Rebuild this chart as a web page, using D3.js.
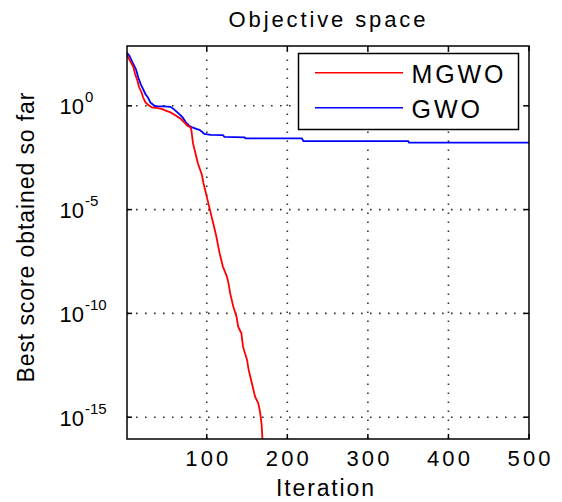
<!DOCTYPE html>
<html><head><meta charset="utf-8">
<script src="https://cdn.jsdelivr.net/npm/d3@7/dist/d3.min.js"></script>
<style>body{margin:0;background:#fff}svg{display:block}text{font-family:"Liberation Sans",Arial,sans-serif;fill:#000}</style>
</head><body>
<svg id="c" width="562" height="502"></svg>
<script>
// ---- data ----
const seriesNames = ["MGWO", "GWO"];
const mgwoIter = [1, 6, 9, 11, 14, 16, 19, 21, 24, 27, 32, 39, 45, 49, 55, 62, 68, 72, 76, 80, 81, 82, 83, 85, 87, 89, 92, 94, 96, 98, 100, 102, 104, 106, 108, 110, 112, 114, 116, 118, 120, 125, 127, 129, 133, 137, 139, 143, 145, 150, 152, 156, 160, 164, 166, 168, 169, 170];
const mgwoBest = [2.8e2, 1.2e2, 7.1e1, 3.4e1, 1.6e1, 7.8, 4.5, 2.5, 1.45, 1.12, 0.83, 0.78, 0.69, 0.58, 0.48, 0.33, 0.23, 0.16, 0.11, 0.091, 0.063, 0.030, 0.015, 7.4e-3, 3.5e-3, 1.7e-3, 7.9e-4, 4.6e-4, 1.8e-4, 8.7e-5, 4.2e-5, 2.0e-5, 9.5e-6, 4.6e-6, 2.2e-6, 1.05e-6, 4.9e-7, 1.9e-7, 7.8e-8, 3.7e-8, 1.8e-8, 5.9e-9, 2.8e-9, 9.5e-10, 2.1e-10, 6.9e-11, 2.3e-11, 1.1e-11, 2.5e-12, 5.8e-13, 1.9e-13, 4.3e-14, 9.8e-15, 4.7e-15, 1.9e-15, 5.1e-16, 1.1e-16, 3.0e-17];
const gwoIter = [1, 4, 8, 12, 15, 18, 21, 24, 27, 30, 35, 39, 47, 55, 59, 66, 70, 74, 78, 82, 88, 91, 94, 97, 105, 120, 122, 147, 148, 218, 220, 350, 351, 500];
const gwoBest = [3.5e2, 2.6e2, 1.2e2, 5.9e1, 2.3e1, 1.1e1, 6.3, 3.6, 2.5, 1.45, 1.0, 0.93, 0.93, 0.89, 0.69, 0.40, 0.28, 0.16, 0.11, 0.091, 0.076, 0.070, 0.056, 0.044, 0.040, 0.039, 0.032, 0.030, 0.027, 0.027, 0.020, 0.020, 0.017, 0.017];
const xTickValues = [100, 200, 300, 400, 500];
const yTickExponents = [0, -5, -10, -15];
const titleText = "Objective space";
const xLabelText = "Iteration";
const yLabelText = "Best score obtained so far";

// ---- layout ----
const svg = d3.select("#c");
const L = 127, R = 529, T = 46, B = 439;
const x = d3.scaleLinear().domain([1, 500]).range([L, R]);
const y = d3.scaleLog().domain([Math.pow(10, -16.05), Math.pow(10, 2.88)]).range([B, T]);

svg.append("defs").append("clipPath").attr("id", "plotclip")
  .append("rect").attr("x", L).attr("y", T).attr("width", R - L).attr("height", B - T);

svg.append("rect").attr("x", L).attr("y", T).attr("width", R - L).attr("height", B - T).attr("fill", "#fff");

// grid
const grid = svg.append("g").attr("stroke", "#333").attr("stroke-width", 1.6).attr("stroke-dasharray", "1.6 7.4");
grid.selectAll("line.gx").data(xTickValues.filter(v => v < 500)).join("line")
  .attr("x1", d => x(d)).attr("x2", d => x(d)).attr("y1", B).attr("y2", T);
grid.selectAll("line.gy").data(yTickExponents).join("line")
  .attr("y1", d => y(Math.pow(10, d))).attr("y2", d => y(Math.pow(10, d))).attr("x1", L).attr("x2", R);

// series
const line = d3.line().x(d => x(d[0])).y(d => y(d[1]));
const series = [
  {name: seriesNames[0], color: "#ff0000", pts: d3.zip(mgwoIter, mgwoBest)},
  {name: seriesNames[1], color: "#0000ff", pts: d3.zip(gwoIter, gwoBest)}
];
const plot = svg.append("g").attr("clip-path", "url(#plotclip)");
plot.selectAll("path").data(series.slice().reverse()).join("path")
  .attr("d", d => line(d.pts)).attr("fill", "none")
  .attr("stroke", d => d.color).attr("stroke-width", 1.8).attr("stroke-linejoin", "miter");

// frame
svg.append("rect").attr("x", L).attr("y", T).attr("width", R - L).attr("height", B - T)
  .attr("fill", "none").attr("stroke", "#000").attr("stroke-width", 1.5);

// ticks
const tk = svg.append("g").attr("stroke", "#000").attr("stroke-width", 1.5);
xTickValues.forEach(v => {
  tk.append("line").attr("x1", x(v)).attr("x2", x(v)).attr("y1", B).attr("y2", B - 5);
  tk.append("line").attr("x1", x(v)).attr("x2", x(v)).attr("y1", T).attr("y2", T + 5);
});
yTickExponents.forEach(e => {
  const yy = y(Math.pow(10, e));
  tk.append("line").attr("x1", L).attr("x2", L + 5).attr("y1", yy).attr("y2", yy);
  tk.append("line").attr("x1", R).attr("x2", R - 5).attr("y1", yy).attr("y2", yy);
});

// x tick labels
svg.append("g").selectAll("text").data(xTickValues).join("text")
  .attr("x", d => x(d)).attr("y", 465.5).attr("text-anchor", "middle")
  .attr("font-size", 22).attr("textLength", 43).attr("lengthAdjust", "spacing")
  .text(d => d);

// y tick labels
const yl = svg.append("g").selectAll("text").data(yTickExponents).join("text")
  .attr("x", 59.5).attr("y", d => y(Math.pow(10, d)) + 8.5).attr("font-size", 22);
yl.append("tspan").text("10");
yl.append("tspan").attr("dx", 1).attr("dy", -12).attr("font-size", 15).text(d => d === 0 ? "0" : "-" + Math.abs(d));

// title & axis labels
svg.append("text").attr("x", 327).attr("y", 27).attr("text-anchor", "middle")
  .attr("font-size", 22).attr("textLength", 197).attr("lengthAdjust", "spacing").text(titleText);
svg.append("text").attr("x", 325).attr("y", 495.5).attr("text-anchor", "middle")
  .attr("font-size", 23).attr("textLength", 98).attr("lengthAdjust", "spacing").text(xLabelText);
svg.append("text").attr("transform", "translate(33.5,237.5) rotate(-90)").attr("text-anchor", "middle")
  .attr("font-size", 23).attr("textLength", 290).attr("lengthAdjust", "spacing").text(yLabelText);

// legend
const lg = svg.append("g");
lg.append("rect").attr("x", 298.5).attr("y", 53.5).attr("width", 220).attr("height", 76)
  .attr("fill", "#fff").attr("stroke", "#000").attr("stroke-width", 1.5);
const legY = [72.7, 107.7];
const legW = [92, 68.5];
series.forEach((s, i) => {
  lg.append("line").attr("x1", 315).attr("x2", 403).attr("y1", legY[i]).attr("y2", legY[i])
    .attr("stroke", s.color).attr("stroke-width", 1.6);
  lg.append("text").attr("x", 411.5).attr("y", legY[i] + 10.6).attr("font-size", 25)
    .attr("textLength", legW[i]).attr("lengthAdjust", "spacing").text(s.name);
});
</script>
</body></html>
